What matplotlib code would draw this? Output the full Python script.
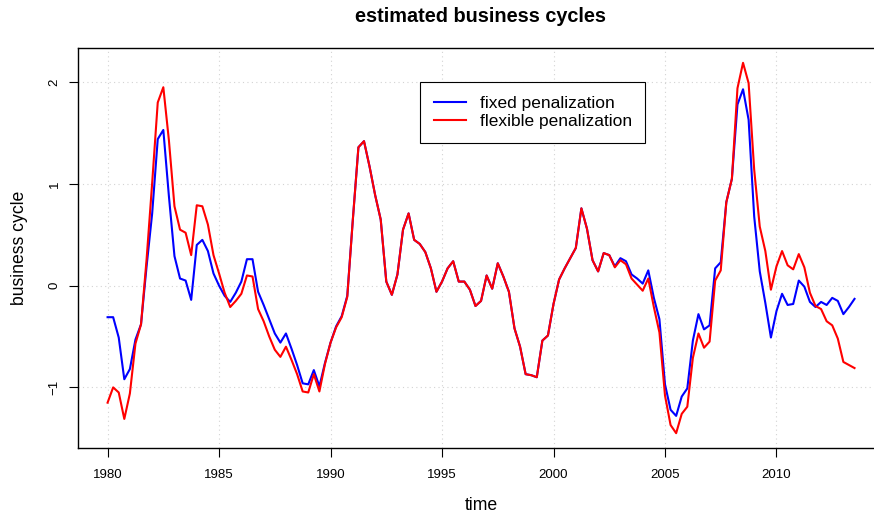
import numpy as np
import matplotlib
matplotlib.use("Agg")
import matplotlib.pyplot as plt

plt.rcParams['font.family'] = ['Liberation Sans', 'DejaVu Sans']

start_year = 1980
n_quarters = 135

fixed = [-0.31, -0.31, -0.51, -0.92, -0.82, -0.53, -0.38, 0.19, 0.71, 1.44,
         1.53, 0.88, 0.29, 0.07, 0.05, -0.14, 0.40, 0.45, 0.34, 0.12,
         0.00, -0.10, -0.16, -0.07, 0.04, 0.26, 0.26, -0.06, -0.19, -0.33,
         -0.47, -0.56, -0.47, -0.62, -0.78, -0.96, -0.97, -0.83, -0.99, -0.76,
         -0.56, -0.40, -0.30, -0.10, 0.65, 1.36, 1.42, 1.17, 0.89, 0.65,
         0.04, -0.09, 0.11, 0.55, 0.71, 0.45, 0.41, 0.33, 0.17, -0.06,
         0.04, 0.17, 0.24, 0.04, 0.04, -0.04, -0.20, -0.15, 0.10, -0.03,
         0.22, 0.09, -0.06, -0.42, -0.60, -0.87, -0.88, -0.90, -0.54, -0.49,
         -0.18, 0.06, 0.17, 0.27, 0.37, 0.76, 0.56, 0.25, 0.14, 0.32,
         0.30, 0.19, 0.27, 0.24, 0.11, 0.07, 0.02, 0.15, -0.12, -0.33,
         -0.97, -1.22, -1.28, -1.09, -1.01, -0.54, -0.28, -0.43, -0.39, 0.17,
         0.23, 0.82, 1.05, 1.78, 1.93, 1.63, 0.68, 0.14, -0.17, -0.51,
         -0.25, -0.08, -0.19, -0.18, 0.05, -0.01, -0.16, -0.21, -0.16, -0.19,
         -0.12, -0.15, -0.28, -0.21, -0.13]

flexible = [-1.15, -1.00, -1.05, -1.31, -1.06, -0.57, -0.38, 0.26, 1.01, 1.80,
            1.95, 1.43, 0.78, 0.55, 0.52, 0.30, 0.79, 0.78, 0.60, 0.30,
            0.12, -0.07, -0.21, -0.15, -0.08, 0.10, 0.09, -0.23, -0.35, -0.50,
            -0.63, -0.70, -0.60, -0.73, -0.87, -1.04, -1.05, -0.87, -1.04, -0.77,
            -0.56, -0.41, -0.31, -0.11, 0.65, 1.36, 1.42, 1.17, 0.89, 0.65,
            0.04, -0.09, 0.11, 0.55, 0.71, 0.45, 0.41, 0.33, 0.17, -0.06,
            0.04, 0.17, 0.24, 0.04, 0.04, -0.04, -0.20, -0.15, 0.10, -0.03,
            0.22, 0.09, -0.06, -0.42, -0.60, -0.87, -0.88, -0.90, -0.54, -0.49,
            -0.18, 0.06, 0.17, 0.27, 0.37, 0.76, 0.56, 0.25, 0.14, 0.32,
            0.30, 0.18, 0.25, 0.21, 0.07, 0.01, -0.05, 0.07, -0.21, -0.46,
            -1.08, -1.37, -1.45, -1.26, -1.19, -0.71, -0.47, -0.61, -0.55, 0.05,
            0.15, 0.82, 1.05, 1.94, 2.19, 1.99, 1.14, 0.58, 0.34, -0.04,
            0.19, 0.34, 0.20, 0.16, 0.31, 0.18, -0.07, -0.20, -0.23, -0.35,
            -0.39, -0.52, -0.75, -0.78, -0.81]

x_ticks = [1980, 1985, 1990, 1995, 2000, 2005, 2010]
y_ticks = [-1, 0, 1, 2]
labels = ["fixed penalization", "flexible penalization"]

t = start_year + np.arange(n_quarters) / 4.0

W, H = 874, 514
fig = plt.figure(figsize=(W / 100, H / 100), dpi=100)
left, right, top, bottom = 77.7, 884.4, 48.0, 448.0
ax = fig.add_axes([left / W, 1 - bottom / H, (right - left) / W, (bottom - top) / H])

rng_x = t[-1] - t[0]
ax.set_xlim(t[0] - 0.04 * rng_x, t[-1] + 0.04 * rng_x)
allv = np.array(fixed + flexible)
rng_y = allv.max() - allv.min()
ax.set_ylim(allv.min() - 0.04 * rng_y, allv.max() + 0.04 * rng_y)

ax.set_xticks(x_ticks)
ax.set_yticks(y_ticks)
for xv in x_ticks:
    ax.axvline(xv, color='lightgray', linestyle=(0, (1, 3)), lw=0.8, zorder=0)
for yv in y_ticks:
    ax.axhline(yv, color='lightgray', linestyle=(0, (1, 3)), lw=0.8, zorder=0)

ax.plot(t, fixed, color='#0000FF', lw=1.5, label=labels[0], zorder=2)
ax.plot(t, flexible, color='#FF0000', lw=1.5, label=labels[1], zorder=3)

ax.tick_params(axis='both', direction='out', length=6.8, width=0.8, labelsize=9.5, colors='black')
ax.tick_params(axis='x', pad=8.5)
ax.tick_params(axis='y', pad=5.5)
ax.set_yticklabels([str(v) if v >= 0 else "\u2212" + str(-v) for v in y_ticks], rotation=90, va='center')

for s in ['left', 'top', 'bottom', 'right']:
    ax.spines[s].set_linewidth(1.0)
    ax.spines[s].set_color('black')

leg = ax.legend(loc='upper left', bbox_to_anchor=(420 / W, 1 - 82.3 / H),
                bbox_transform=fig.transFigure, frameon=True, fancybox=False,
                framealpha=1, edgecolor='black', fontsize=12.5,
                handlelength=1.85, handletextpad=0.8, labelspacing=0.18,
                borderpad=0.78, borderaxespad=0)
leg.get_frame().set_linewidth(0.8)

fig.text(481 / W, 1 - 17 / H, "estimated business cycles", ha='center', va='center',
         fontsize=14.3, fontweight='bold')
fig.text(481 / W, 1 - 505 / H, "time", ha='center', va='center', fontsize=12.7)
fig.text(20 / W, 1 - 248 / H, "business cycle", ha='center', va='center', fontsize=12.7,
         rotation=90)

fig.savefig("out.png", dpi=100)
